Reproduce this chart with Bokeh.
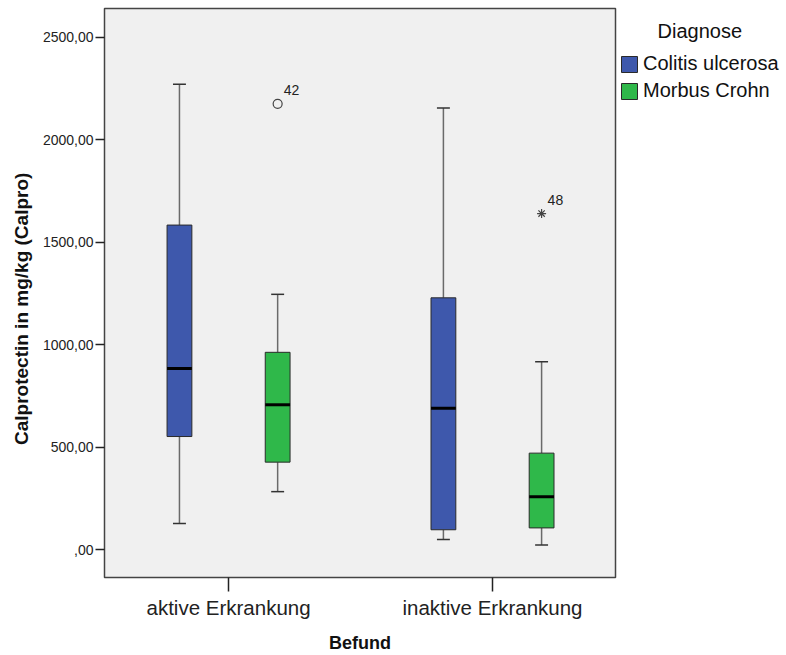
from bokeh.plotting import figure
from bokeh.layouts import row
from bokeh.models import Range1d, FixedTicker, Label, Legend, LegendItem
from bokeh.core.properties import value
from bokeh.embed import file_html
from bokeh.resources import INLINE

# ---- data ----
categories = ["aktive Erkrankung", "inaktive Erkrankung"]
groups = ["Colitis ulcerosa", "Morbus Crohn"]

cu_low = [128, 50]
cu_q1 = [552, 97]
cu_med = [884, 690]
cu_q3 = [1584, 1229]
cu_high = [2271, 2156]

mc_low = [283, 23]
mc_q1 = [427, 106]
mc_med = [707, 258]
mc_q3 = [963, 471]
mc_high = [1246, 917]

outlier_cat = ["aktive Erkrankung", "inaktive Erkrankung"]
outlier_group = ["Morbus Crohn", "Morbus Crohn"]
outlier_val = [2176, 1640]
outlier_id = ["42", "48"]
outlier_kind = ["circle", "asterisk"]

y_ticks = [0, 500, 1000, 1500, 2000, 2500]
y_tick_labels = [",00", "500,00", "1000,00", "1500,00", "2000,00", "2500,00"]

y_title = "Calprotectin in mg/kg (Calpro)"
x_title = "Befund"
legend_title = "Diagnose"

colors = {"Colitis ulcerosa": "#3E58AC", "Morbus Crohn": "#2FB84A"}
offsets = {"Colitis ulcerosa": -0.186, "Morbus Crohn": 0.186}
BW = 0.094
CW = 0.049
FONT = "Liberation Sans"

p = figure(width=617, height=655, output_backend="svg", toolbar_location=None,
           x_range=Range1d(0.530, 2.466), y_range=Range1d(-136, 2641),
           min_border_left=104, min_border_right=2, min_border_top=8, min_border_bottom=77)

p.background_fill_color = "#f0f0f0"
p.border_fill_color = "white"
p.outline_line_color = "#444444"
p.outline_line_width = 1.5
p.xgrid.visible = False
p.ygrid.visible = False

series = {
    "Colitis ulcerosa": (cu_low, cu_q1, cu_med, cu_q3, cu_high),
    "Morbus Crohn": (mc_low, mc_q1, mc_med, mc_q3, mc_high),
}

for g in groups:
    low, q1, med, q3, high = series[g]
    xs = [i + 1 + offsets[g] for i in range(len(categories))]
    # whiskers
    p.segment(x0=xs, x1=xs, y0=q3, y1=high, line_color="#6a6a6a", line_width=1.5)
    p.segment(x0=xs, x1=xs, y0=q1, y1=low, line_color="#6a6a6a", line_width=1.5)
    # caps
    p.segment(x0=[x - CW / 2 for x in xs], x1=[x + CW / 2 for x in xs], y0=high, y1=high,
              line_color="#333333", line_width=1.5)
    p.segment(x0=[x - CW / 2 for x in xs], x1=[x + CW / 2 for x in xs], y0=low, y1=low,
              line_color="#333333", line_width=1.5)
    # boxes
    p.vbar(x=xs, width=BW, bottom=q1, top=q3, fill_color=colors[g],
           line_color="#2a2a2a", line_width=1)
    # medians
    p.segment(x0=[x - BW / 2 for x in xs], x1=[x + BW / 2 for x in xs], y0=med, y1=med,
              line_color="black", line_width=3)

# outliers
ox = [categories.index(c) + 1 + offsets[g] for c, g in zip(outlier_cat, outlier_group)]
for x, v, k in zip(ox, outlier_val, outlier_kind):
    p.scatter([x], [v], marker=k, size=9, fill_color=None, line_color="#444444", line_width=1.2)
p.text(x=ox, y=outlier_val, text=outlier_id, x_offset=6, y_offset=-14,
       text_font=value(FONT), text_font_size="14px", text_color="#222222",
       text_baseline="middle", text_align="left")

# axes
p.yaxis.ticker = FixedTicker(ticks=y_ticks)
p.yaxis.major_label_overrides = {t: l for t, l in zip(y_ticks, y_tick_labels)}
p.xaxis.ticker = FixedTicker(ticks=[1, 2])
p.xaxis.major_label_overrides = {i + 1: c for i, c in enumerate(categories)}

for ax in (p.xaxis, p.yaxis):
    ax.axis_line_color = None
    ax.major_tick_in = 0
    ax.minor_tick_line_color = None
    ax.major_tick_line_color = "#222222"
    ax.major_tick_line_width = 1.5
    ax.major_label_text_font = FONT
    ax.major_label_text_color = "#222222"
    ax.axis_label_text_font = FONT
    ax.axis_label_text_font_style = "bold"
    ax.axis_label_text_color = "#111111"

p.yaxis.major_tick_out = 9
p.yaxis.major_label_text_font_size = "14px"
p.yaxis.major_label_standoff = 2
# trailing no-break spaces shift the centred title a little downwards, as in the reference
p.yaxis.axis_label = y_title + "\u00a0" * 6
p.yaxis.axis_label_text_font_size = "19px"
p.yaxis.axis_label_standoff = 8

p.xaxis.major_tick_out = 14
p.xaxis.major_label_text_font_size = "20.5px"
p.xaxis.major_label_standoff = 4
p.xaxis.axis_label = x_title
p.xaxis.axis_label_text_font_size = "18px"
p.xaxis.axis_label_standoff = 11

# ---- legend panel (separate figure to the right; its frame is aligned to p's frame: y 8..578) ----
lf = figure(width=169, height=655, output_backend="svg", toolbar_location=None,
            x_range=Range1d(0, 1), y_range=Range1d(0, 1),
            x_axis_location=None, y_axis_location=None,
            min_border_left=0, min_border_right=0, min_border_top=8, min_border_bottom=77)
lf.outline_line_color = None
lf.background_fill_color = "white"
lf.border_fill_color = "white"
lf.xgrid.visible = False
lf.ygrid.visible = False

items = []
for g in groups:
    # proxy renderer placed outside the visible range; only its legend swatch shows
    r = lf.vbar(x=[10], bottom=[10], top=[11], width=0.1, fill_color=colors[g],
                line_color="#2a2a2a", line_width=1)
    items.append(LegendItem(label=g, renderers=[r]))

leg = Legend(items=items, location=(2, 475), padding=0, margin=0,
             border_line_color=None, background_fill_alpha=0,
             glyph_width=20, glyph_height=20, label_height=20, spacing=4,
             label_standoff=4, label_text_font=FONT, label_text_font_size="20px",
             label_text_color="#111111", label_text_baseline="middle")
lf.add_layout(leg)

lf.add_layout(Label(x=40, y=547, x_units="screen", y_units="screen", text=legend_title,
                    text_font=FONT, text_font_size="20px", text_color="#111111",
                    text_baseline="middle", text_align="left"))

layout = row(p, lf, spacing=0)
open("out.html", "w").write(file_html(layout, INLINE))
